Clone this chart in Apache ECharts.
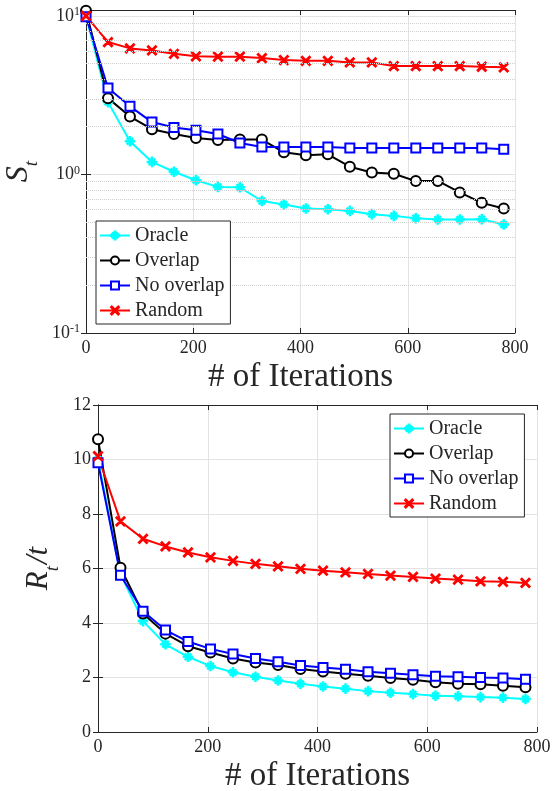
<!DOCTYPE html>
<html>
<head>
<meta charset="utf-8">
<script src="https://cdn.jsdelivr.net/npm/echarts@6/dist/echarts.min.js"></script>
<style>
  html, body { margin: 0; padding: 0; background: #fff; }
  #main { width: 559px; height: 791px; }
</style>
</head>
<body>
<div id="main"></div>
<script>
// iterations (x)
var iters = [0, 41, 82, 123, 164, 205, 246, 287, 328, 369, 410, 451, 492, 533, 574, 615, 656, 697, 738, 779];

// top: S_t (log scale)
var stOracle    = [10.0, 2.86, 1.62, 1.20, 1.04, 0.92, 0.835, 0.83, 0.68, 0.647, 0.61, 0.604, 0.589, 0.562, 0.548, 0.53, 0.52, 0.52, 0.522, 0.483];
var stOverlap   = [10.8, 3.03, 2.32, 1.93, 1.80, 1.70, 1.65, 1.66, 1.66, 1.38, 1.32, 1.34, 1.12, 1.03, 1.01, 0.908, 0.911, 0.77, 0.662, 0.61];
var stNoOverlap = [9.9, 3.51, 2.69, 2.14, 1.98, 1.90, 1.80, 1.58, 1.49, 1.49, 1.49, 1.49, 1.47, 1.47, 1.47, 1.47, 1.47, 1.47, 1.47, 1.44];
var stRandom    = [10.0, 6.84, 6.24, 6.06, 5.77, 5.56, 5.53, 5.53, 5.42, 5.27, 5.21, 5.21, 5.09, 5.09, 4.83, 4.83, 4.83, 4.83, 4.78, 4.74];

// bottom: R_t / t
var rtOracle    = [10.0, 5.8, 4.07, 3.22, 2.76, 2.42, 2.19, 2.03, 1.89, 1.77, 1.67, 1.59, 1.50, 1.44, 1.39, 1.33, 1.31, 1.28, 1.26, 1.21];
var rtOverlap   = [10.74, 6.03, 4.35, 3.61, 3.15, 2.92, 2.70, 2.55, 2.46, 2.31, 2.22, 2.14, 2.06, 1.98, 1.92, 1.83, 1.77, 1.75, 1.70, 1.64];
var rtNoOverlap = [9.88, 5.75, 4.43, 3.74, 3.32, 3.05, 2.86, 2.70, 2.58, 2.44, 2.37, 2.30, 2.21, 2.16, 2.10, 2.05, 2.03, 2.00, 1.98, 1.94];
var rtRandom    = [10.12, 7.73, 7.09, 6.81, 6.59, 6.41, 6.28, 6.17, 6.08, 5.99, 5.92, 5.86, 5.80, 5.74, 5.69, 5.63, 5.59, 5.53, 5.51, 5.47];

var names = ['Oracle', 'Overlap', 'No overlap', 'Random'];
var colors = ['#00ffff', '#000000', '#0000ff', '#ff0000'];
var minorTicks = [0.2, 0.3, 0.4, 0.5, 0.6, 0.7, 0.8, 0.9, 2, 3, 4, 5, 6, 7, 8, 9];

// marker shapes like matlab '*' and 'x'
var starPath = 'path://M0 9L20 9L20 11L0 11Z M9 0L11 0L11 20L9 20Z' +
  'M3.28 4.7L4.7 3.28L16.72 15.3L15.3 16.72Z M4.7 16.72L3.28 15.3L15.3 3.28L16.72 4.7Z';
var xPath = 'path://M2.9 4.3L4.3 2.9L17.1 15.7L15.7 17.1Z M4.3 17.1L2.9 15.7L15.7 2.9L17.1 4.3Z';
var symbols = [starPath, 'emptyCircle', 'emptyRect', xPath];
var symSizes = [9, 10, 9, 9];

var font = 'Liberation Serif';
var txt = '#262626';

function pairs(arr) {
  return arr.map(function (v, i) { return [iters[i], v]; });
}

function mkSeries(arrs, gi) {
  return arrs.map(function (a, k) {
    return {
      name: names[k],
      type: 'line',
      xAxisIndex: gi * 2,
      yAxisIndex: gi * 2,
      data: pairs(a),
      symbol: symbols[k],
      symbolSize: symSizes[k],
      showAllSymbol: true,
      lineStyle: { color: colors[k], width: 2 },
      itemStyle: { color: colors[k], borderColor: colors[k], borderWidth: 1.6 },
      emphasis: { disabled: true },
      animation: false
    };
  });
}

function xAxes(gi) {
  return [{
    type: 'value', gridIndex: gi, min: 0, max: 800, interval: 200,
    name: '# of Iterations', nameLocation: 'middle', nameGap: 28,
    nameTextStyle: { fontFamily: font, fontSize: 33, color: txt },
    axisLine: { lineStyle: { color: txt, width: 1 } },
    axisTick: { inside: true, length: 5, lineStyle: { color: txt } },
    axisLabel: { fontFamily: font, fontSize: 18, color: txt, margin: 6 },
    splitLine: { show: true, lineStyle: { color: '#e3e3e3', width: 1 } }
  }, {
    type: 'value', gridIndex: gi, min: 0, max: 800, interval: 200, position: 'top',
    axisLine: { onZero: false, lineStyle: { color: txt, width: 1 } },
    axisTick: { inside: true, length: 5, lineStyle: { color: txt } },
    axisLabel: { show: false }, splitLine: { show: false }
  }];
}

function mkLegend(left, top) {
  return {
    data: names, orient: 'vertical', left: left, top: top, z: 20,
    itemWidth: 30, itemHeight: 10, itemGap: 4,
    padding: [4, 6, 3, 3],
    backgroundColor: '#fff', borderColor: txt, borderWidth: 1, borderRadius: 0,
    textStyle: { fontFamily: font, fontSize: 20, lineHeight: 21, color: txt }
  };
}

var x0 = xAxes(0), x1 = xAxes(1);

var option = {
  backgroundColor: '#fff',
  animation: false,
  grid: [
    { left: 86, right: 44, top: 10, bottom: 458, outerBoundsMode: 'none' },
    { left: 98, right: 22, top: 405, bottom: 59, outerBoundsMode: 'none' }
  ],
  legend: [mkLegend(96, 221), mkLegend(390, 414)],
  xAxis: [x0[0], x0[1], x1[0], x1[1]],
  yAxis: [{
    type: 'log', gridIndex: 0, logBase: 10, min: 0.1, max: 10.9, interval: 1,
    name: '{i|S}{sub|t}', nameLocation: 'middle', nameGap: 44,
    nameTextStyle: {
      color: txt,
      rich: {
        i: { fontFamily: font, fontStyle: 'italic', fontSize: 32, color: txt, lineHeight: 34 },
        sub: { fontFamily: font, fontStyle: 'italic', fontSize: 19, color: txt, verticalAlign: 'bottom', lineHeight: 34, padding: [0, 0, -6, 0] }
      }
    },
    axisLine: { lineStyle: { color: txt, width: 1 } },
    axisTick: { inside: true, length: 5, lineStyle: { color: txt } },
    axisLabel: {
      margin: 6,
      formatter: function (v) {
        var e = Math.round(Math.log(v) / Math.LN10);
        return '{b|10}{s|' + e + '}';
      },
      rich: {
        b: { fontFamily: font, fontSize: 18, color: txt },
        s: { fontFamily: font, fontSize: 12, color: txt, verticalAlign: 'top', padding: [0, 0, 8, 0] }
      }
    },
    splitLine: { show: true, lineStyle: { color: '#e3e3e3', width: 1 } }
  }, {
    type: 'log', gridIndex: 0, logBase: 10, min: 0.1, max: 10.9, interval: 1, position: 'right',
    axisLine: { lineStyle: { color: txt, width: 1 } },
    axisTick: { inside: true, length: 5, lineStyle: { color: txt } },
    axisLabel: { show: false }, splitLine: { show: false }
  }, {
    type: 'value', gridIndex: 1, min: 0, max: 12, interval: 2,
    name: '{i|R}{sub|t}{i|/t}', nameLocation: 'middle', nameGap: 40,
    nameTextStyle: {
      color: txt,
      rich: {
        i: { fontFamily: font, fontStyle: 'italic', fontSize: 31, color: txt, lineHeight: 34 },
        sub: { fontFamily: font, fontStyle: 'italic', fontSize: 19, color: txt, verticalAlign: 'bottom', lineHeight: 34, padding: [0, 2, -6, 0] }
      }
    },
    axisLine: { lineStyle: { color: txt, width: 1 } },
    axisTick: { inside: true, length: 5, lineStyle: { color: txt } },
    axisLabel: { fontFamily: font, fontSize: 18, color: txt, margin: 7 },
    splitLine: { show: true, lineStyle: { color: '#e3e3e3', width: 1 } }
  }, {
    type: 'value', gridIndex: 1, min: 0, max: 12, interval: 2, position: 'right',
    axisLine: { lineStyle: { color: txt, width: 1 } },
    axisTick: { inside: true, length: 5, lineStyle: { color: txt } },
    axisLabel: { show: false }, splitLine: { show: false }
  }],
  series: [{
    // dotted minor grid of the log axis
    type: 'line', xAxisIndex: 0, yAxisIndex: 0, data: [], silent: true, z: 0,
    markLine: {
      silent: true, symbol: 'none', animation: false,
      label: { show: false },
      lineStyle: { color: '#d0d0d0', type: 'dotted', width: 1 },
      data: minorTicks.map(function (v) { return { yAxis: v }; })
    }
  }].concat(
    mkSeries([stOracle, stOverlap, stNoOverlap, stRandom], 0),
    mkSeries([rtOracle, rtOverlap, rtNoOverlap, rtRandom], 1)
  )
};

var myChart = echarts.init(document.getElementById('main'));
myChart.setOption(option);
</script>
</body>
</html>
